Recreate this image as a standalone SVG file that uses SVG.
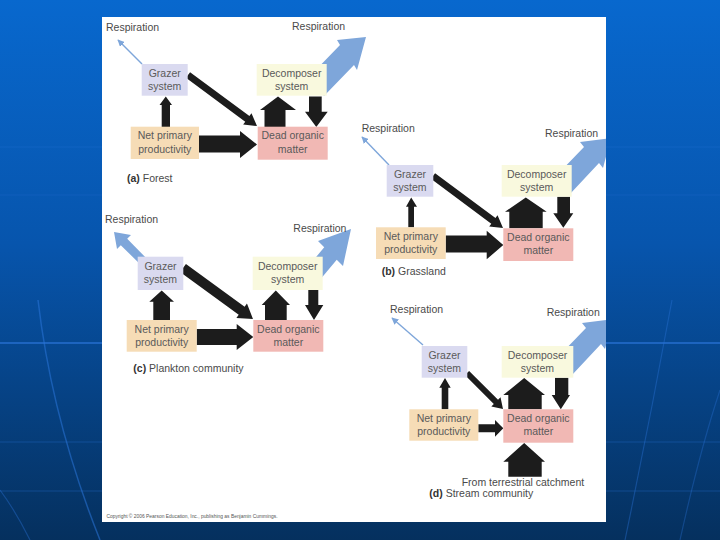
<svg xmlns="http://www.w3.org/2000/svg" width="720" height="540" viewBox="0 0 720 540">
<defs>
<linearGradient id="bg" x1="0" y1="0" x2="0" y2="1">
<stop offset="0" stop-color="#0868ce"/>
<stop offset="0.45" stop-color="#0755ad"/>
<stop offset="1" stop-color="#05305e"/>
</linearGradient>
<clipPath id="panelClip"><rect x="102" y="17" width="504" height="505"/></clipPath>
<marker id="thin" viewBox="0 0 10 10" refX="9" refY="5" markerWidth="5" markerHeight="5" orient="auto"><path d="M0,0 L10,5 L0,10 z" fill="#7ea6da"/></marker>
<style>
.lbl{font-family:"Liberation Sans",Arial,sans-serif;font-size:10.5px;fill:#4a4a4a}
.box{font-family:"Liberation Sans",Arial,sans-serif;font-size:10.5px;fill:#5a5a5a;text-anchor:middle}
.cap{font-family:"Liberation Sans",Arial,sans-serif;font-size:10.5px;fill:#4a4a4a}
.cap tspan.b{font-weight:bold;fill:#333}
.gr{fill:#dadaf0}
.de{fill:#f9f9de}
.np{fill:#f6dcb6}
.dd{fill:#f1b8b4}
.blk{fill:#1c1c1c}
.blue{fill:#7ea6da}
.thinline{stroke:#7ea6da;stroke-width:1.4;fill:none}
.deco{stroke:#2a74d8;fill:none}
</style>
</defs>
<rect width="720" height="540" fill="url(#bg)"/>
<g id="background-lines">
<line class="deco" x1="0" y1="147" x2="720" y2="147" stroke-width="1" opacity="0.3"/>
<line class="deco" x1="0" y1="195" x2="720" y2="195" stroke-width="1" opacity="0.25"/>
<line class="deco" x1="0" y1="343" x2="720" y2="343" stroke-width="1.6" opacity="0.85"/>
<line class="deco" x1="0" y1="442" x2="720" y2="442" stroke-width="1" opacity="0.35"/>
<line class="deco" x1="0" y1="491" x2="720" y2="491" stroke-width="1" opacity="0.35"/>
<path class="deco" d="M38,300 Q52,420 100,540" stroke-width="1.5" opacity="0.55"/>
<path class="deco" d="M0,490 Q15,510 30,540" stroke-width="1.2" opacity="0.4"/>
<path class="deco" d="M672,300 Q650,420 625,540" stroke-width="1.2" opacity="0.4"/>
<path class="deco" d="M720,390 Q700,450 680,540" stroke-width="1.2" opacity="0.35"/>
</g>
<rect id="panel" x="102" y="17" width="504" height="505" fill="#ffffff"/>

<g id="connectors" clip-path="url(#panelClip)">
<!-- (a) Forest -->
<line class="thinline" x1="142" y1="64" x2="118" y2="40" marker-end="url(#thin)"/>
<polygon class="blue" points="310,76 340,45 337,40 366,37 357,70 354,65 324,96"/>
<polygon class="blk" points="161.7,127 161.7,105 159.5,105 165.8,96.5 172,105 170,105 170,127"/>
<polygon class="blk" points="0,-3.5 73.8,-3.5 73.8,-7 85.8,0 73.8,7 73.8,3.5 0,3.5" transform="translate(188,75) rotate(36.5)"/>
<polygon class="blk" points="199,135.5 240,135.5 240,131 257,144.5 240,158 240,152.5 199,152.5"/>
<polygon class="blk" points="264.5,127 264.5,110 260,110 278,96.5 296,110 285.5,110 285.5,127"/>
<polygon class="blk" points="309,96.5 321.7,96.5 321.7,111.7 327.7,111.7 316.3,127 305,111.7 309,111.7"/>
<!-- (b) Grassland -->
<line class="thinline" x1="389" y1="165" x2="362" y2="137" marker-end="url(#thin)"/>
<polygon class="blue" points="556,176 584,147 580,142 611,138 603,168 599,163 570,194"/>
<polygon class="blk" points="408.3,227.3 408.3,206.7 406,206.7 411.2,197.5 417,206.7 414,206.7 414,227.3"/>
<polygon class="blk" points="0,-3.5 75.2,-3.5 75.2,-7 87.2,0 75.2,7 75.2,3.5 0,3.5" transform="translate(433,176) rotate(36.6)"/>
<polygon class="blk" points="445.7,235.5 486.7,235.5 486.7,230.7 503.3,245 486.7,259.3 486.7,252.5 445.7,252.5"/>
<polygon class="blk" points="509.3,228.3 509.3,211.7 505,211.7 525.8,197.5 546.7,211.7 542.7,211.7 542.7,228.3"/>
<polygon class="blk" points="557.3,196.7 570,196.7 570,213.3 573.3,213.3 563.3,227.7 553.3,213.3 557.3,213.3"/>
<!-- (c) Plankton community -->
<polygon class="blue" points="152,264 127.2,238.8 131,235 114,232 117,249 120.8,245.2 146,270"/>
<polygon class="blue" points="303.75,271.75 324.25,247.25 318,241 351,229 343,266 336.75,259.75 316.25,284.25"/>
<polygon class="blk" points="153.3,320 153.3,301.7 149.3,301.7 161.7,290.5 174,301.7 170,301.7 170,320"/>
<polygon class="blk" points="0,-5 72.6,-5 72.6,-9 86.6,0 72.6,9 72.6,5 0,5" transform="translate(183,268) rotate(36.1)"/>
<polygon class="blk" points="196.7,329 236.7,329 236.7,324 253.3,337 236.7,350 236.7,345 196.7,345"/>
<polygon class="blk" points="265,320 265,305 261.7,305 275.8,290.5 290,305 286.7,305 286.7,320"/>
<polygon class="blk" points="308.3,290 318.3,290 318.3,305 323.3,305 314,320 305,305 308.3,305"/>
<!-- (d) Stream community -->
<line class="thinline" x1="423" y1="345" x2="392" y2="318" marker-end="url(#thin)"/>
<polygon class="blue" points="558,357 586,328 582,323 613,319 605,349 601,344 572,375"/>
<polygon class="blk" points="441.7,409.3 441.7,387.7 439.3,387.7 445,378 450.7,387.7 448.3,387.7 448.3,409.3"/>
<polygon class="blk" points="0,-3 40.9,-3 40.9,-6.5 50.9,0 40.9,6.5 40.9,3 0,3" transform="translate(467,373) rotate(45)"/>
<polygon class="blk" points="478.3,424.3 495,424.3 495,420 503.3,428.3 495,436.7 495,432.3 478.3,432.3"/>
<polygon class="blk" points="508.3,409.3 508.3,395 503.3,395 524.2,378 545,395 541.7,395 541.7,409.3"/>
<polygon class="blk" points="555,377.7 568.3,377.7 568.3,395 570,395 560.8,409.3 551.7,395 555,395"/>
<polygon class="blk" points="508.3,476.7 508.3,461.7 503.3,461.7 524.2,443 545,461.7 541.7,461.7 541.7,476.7"/>
</g>

<!-- Panel (a) -->
<g id="a-labels">
<text class="lbl" x="106" y="31">Respiration</text>
<text class="lbl" x="292" y="30">Respiration</text>
<text class="cap" x="127" y="182"><tspan class="b">(a)</tspan> Forest</text>
</g>
<g id="a-grazer"><rect class="gr" x="141.7" y="64" width="46" height="31.7"/><text class="box" x="164.7" y="76.7">Grazer</text><text class="box" x="164.7" y="90">system</text></g>
<g id="a-decomposer"><rect class="de" x="256.7" y="64" width="70" height="31.7"/><text class="box" x="291.7" y="76.7">Decomposer</text><text class="box" x="291.7" y="90">system</text></g>
<g id="a-npp"><rect class="np" x="130.7" y="126.7" width="68.3" height="32.3"/><text class="box" x="164.8" y="139.4">Net primary</text><text class="box" x="164.8" y="152.7">productivity</text></g>
<g id="a-dead"><rect class="dd" x="257.7" y="126.7" width="70" height="33"/><text class="box" x="292.7" y="139.4">Dead organic</text><text class="box" x="292.7" y="152.7">matter</text></g>

<!-- Panel (b) -->
<g id="b-labels">
<text class="lbl" x="361.7" y="132.3">Respiration</text>
<text class="lbl" x="545" y="136.7">Respiration</text>
<text class="cap" x="381.7" y="275"><tspan class="b">(b)</tspan> Grassland</text>
</g>
<g id="b-grazer"><rect class="gr" x="386.7" y="165" width="46.6" height="31.7"/><text class="box" x="410" y="177.7">Grazer</text><text class="box" x="410" y="191">system</text></g>
<g id="b-decomposer"><rect class="de" x="501.7" y="165" width="70" height="31.7"/><text class="box" x="536.7" y="177.7">Decomposer</text><text class="box" x="536.7" y="191">system</text></g>
<g id="b-npp"><rect class="np" x="376" y="227.3" width="69.7" height="31.7"/><text class="box" x="410.8" y="240">Net primary</text><text class="box" x="410.8" y="253.3">productivity</text></g>
<g id="b-dead"><rect class="dd" x="503.3" y="228.3" width="70" height="32.7"/><text class="box" x="538.3" y="241">Dead organic</text><text class="box" x="538.3" y="254.3">matter</text></g>

<!-- Panel (c) -->
<g id="c-labels">
<text class="lbl" x="105" y="223.3">Respiration</text>
<text class="lbl" x="293.3" y="231.7">Respiration</text>
<text class="cap" x="133.3" y="371.7"><tspan class="b">(c)</tspan> Plankton community</text>
</g>
<g id="c-grazer"><rect class="gr" x="137.7" y="256.7" width="45.6" height="33.3"/><text class="box" x="160.5" y="270">Grazer</text><text class="box" x="160.5" y="283.3">system</text></g>
<g id="c-decomposer"><rect class="de" x="252.7" y="256.7" width="70" height="33.3"/><text class="box" x="287.7" y="270">Decomposer</text><text class="box" x="287.7" y="283.3">system</text></g>
<g id="c-npp"><rect class="np" x="126.7" y="320" width="70" height="31.7"/><text class="box" x="161.7" y="332.7">Net primary</text><text class="box" x="161.7" y="346">productivity</text></g>
<g id="c-dead"><rect class="dd" x="253.3" y="320" width="70" height="31.7"/><text class="box" x="288.3" y="332.7">Dead organic</text><text class="box" x="288.3" y="346">matter</text></g>

<!-- Panel (d) -->
<g id="d-labels">
<text class="lbl" x="390" y="313.3">Respiration</text>
<text class="lbl" x="546.7" y="315.7">Respiration</text>
<text class="lbl" x="461.7" y="485.7">From terrestrial catchment</text>
<text class="cap" x="429.3" y="497.3"><tspan class="b">(d)</tspan> Stream community</text>
</g>
<g id="d-grazer"><rect class="gr" x="421.7" y="346" width="45.6" height="31.7"/><text class="box" x="444.5" y="358.7">Grazer</text><text class="box" x="444.5" y="372">system</text></g>
<g id="d-decomposer"><rect class="de" x="501.7" y="346" width="71.6" height="31.7"/><text class="box" x="537.5" y="358.7">Decomposer</text><text class="box" x="537.5" y="372">system</text></g>
<g id="d-npp"><rect class="np" x="409.3" y="409.3" width="69" height="31.4"/><text class="box" x="443.8" y="422">Net primary</text><text class="box" x="443.8" y="435.3">productivity</text></g>
<g id="d-dead"><rect class="dd" x="503.3" y="409.3" width="70" height="33.4"/><text class="box" x="538.3" y="422">Dead organic</text><text class="box" x="538.3" y="435.3">matter</text></g>

<text id="copyright" x="106.5" y="517.5" font-family="Liberation Sans, Arial, sans-serif" font-size="4.6" fill="#555" textLength="171" lengthAdjust="spacingAndGlyphs">Copyright © 2006 Pearson Education, Inc., publishing as Benjamin Cummings.</text>
</svg>
